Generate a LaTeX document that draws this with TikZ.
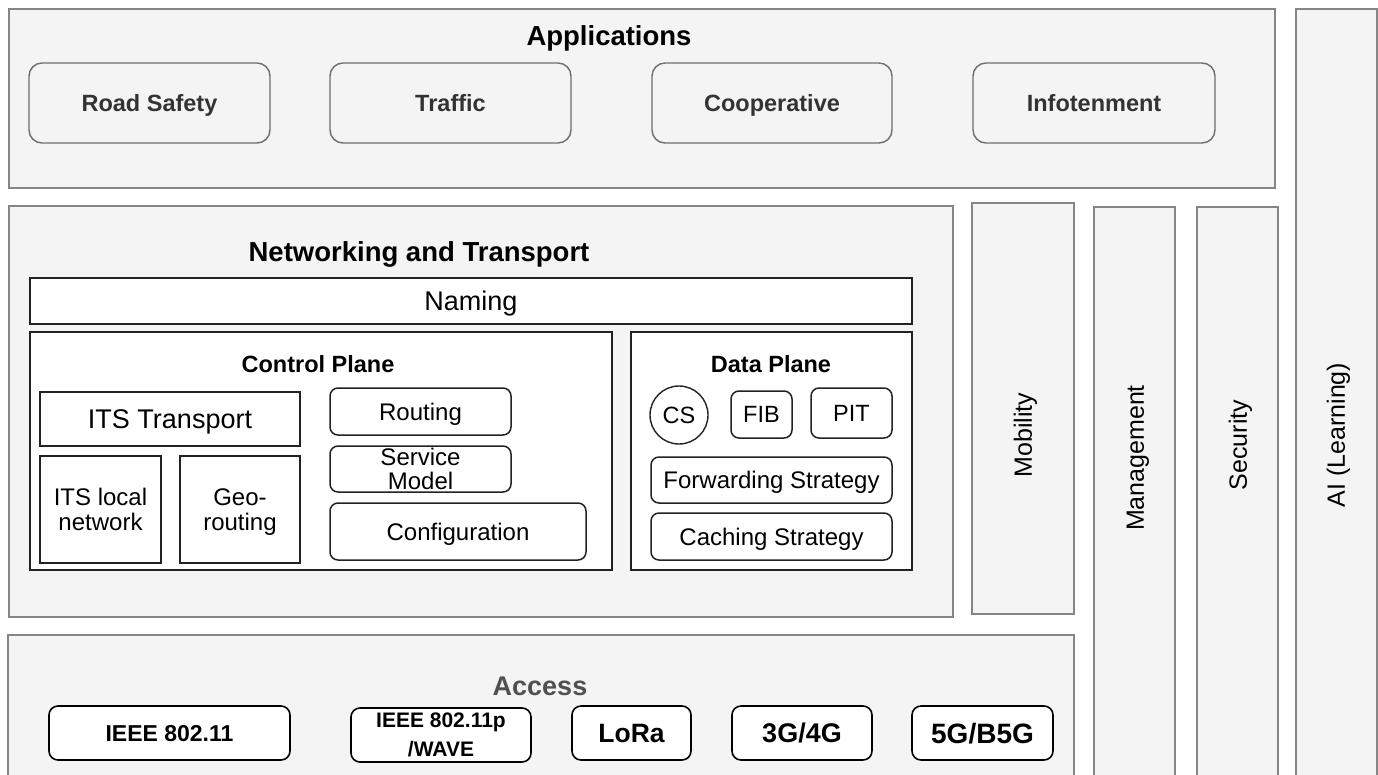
\documentclass[tikz,border=0pt]{standalone}
\usepackage{fontspec}
\setmainfont{Liberation Sans}
\usetikzlibrary{shapes.geometric}
\definecolor{bgfill}{HTML}{F4F4F4}
\definecolor{outline}{HTML}{858585}
\definecolor{appline}{HTML}{6E6E6E}
\definecolor{dark}{HTML}{222222}
\definecolor{apptext}{HTML}{333333}
\definecolor{acctitle}{HTML}{505050}
\newcommand\boxat[7]{\node[#6, anchor=north west, minimum width={#4-#2}, minimum height={#5-#3}] (#1) at (#2,#3) {#7};}
\tikzset{
  every node/.style={inner sep=0pt, outer sep=0pt},
  ctext/.style args={#1/#2}{font=\fontsize{#1}{#1}\selectfont, text height=#2pt, text depth=0pt},
  layer/.style={draw=outline, fill=bgfill, line width=1.5pt},
  ibox/.style={draw=dark, fill=white, line width=1.5pt},
  rbox/.style={ibox, rounded corners=8pt},
  appitem/.style={draw=appline, fill=bgfill, line width=1.4pt, rounded corners=13pt, text=apptext},
  accitem/.style={draw=black, fill=white, line width=1.6pt, rounded corners=9pt},
  ttl/.style={anchor=base, font=\fontsize{27.5}{30}\selectfont\bfseries},
  vtext/.style={rotate=90, ctext=25/17.9},
}
\begin{document}
\begin{tikzpicture}[x=1pt, y=-1pt]
\useasboundingbox (0,0) rectangle (1378,774);
\clip (0,0) rectangle (1378,774);
\fill[white] (0,0) rectangle (1378,774);

% Applications
\boxat{apps}{9}{9}{1275}{188}{layer}{}
\node[ttl] (appsT) at (609,45) {Applications};
\boxat{road}{29}{63}{270}{143}{appitem, ctext=23.5/16.8, font=\fontsize{23.5}{24}\selectfont\bfseries}{Road Safety}
\boxat{traffic}{330}{63}{571}{143}{appitem, ctext=23.5/16.8, font=\fontsize{23.5}{24}\selectfont\bfseries}{Traffic}
\boxat{coop}{652}{63}{892}{143}{appitem, ctext=23.5/16.8, font=\fontsize{23.5}{24}\selectfont\bfseries}{Cooperative}
\boxat{info}{973}{63}{1215}{143}{appitem, ctext=23.5/16.8, font=\fontsize{23.5}{24}\selectfont\bfseries}{Infotenment}

% Side columns
\boxat{ai}{1296}{9}{1377}{800}{layer}{}
\node[vtext] (aiT) at (1336,435) {AI (Learning)};
\boxat{mob}{972}{203}{1074}{614}{layer}{}
\node[vtext] (mobT) at (1023,435) {Mobility};
\boxat{mgmt}{1094}{207}{1175}{800}{layer}{}
\node[vtext] (mgmtT) at (1135,458) {Management};
\boxat{sec}{1197}{207}{1278}{800}{layer}{}
\node[vtext] (secT) at (1238,445) {Security};

% Networking and Transport
\boxat{nt}{9}{206}{953}{617}{layer}{}
\node[ttl] (ntT) at (419,261) {Networking and Transport};
\boxat{naming}{30}{278}{912}{324}{ibox, ctext=27/19.3}{Naming}

% Control plane
\boxat{cp}{30}{332}{612}{570}{ibox}{}
\node[anchor=base, font=\fontsize{23.5}{24}\selectfont\bfseries] (cpT) at (318,372) {Control Plane};
\boxat{itst}{40}{392}{300}{446}{ibox, ctext=27/19.3}{ITS Transport}
\boxat{itsl}{40}{456}{161}{563}{ibox, align=center, text depth=0pt, font=\fontsize{24}{25}\selectfont}{ITS local\\network}
\boxat{geo}{180}{456}{300}{563}{ibox, align=center, text depth=0pt, font=\fontsize{24}{25}\selectfont}{Geo-\\routing}
\boxat{routing}{330}{388}{511}{435}{rbox, ctext=24/17.2}{Routing}
\boxat{svc}{330}{446}{511}{492}{rbox, align=center, text depth=0pt, font=\fontsize{24}{24}\selectfont}{Service\\Model}
\boxat{conf}{330}{503}{586}{560}{rbox, ctext=24/17.2}{Configuration}

% Data plane
\boxat{dp}{631}{332}{912}{570}{ibox}{}
\node[anchor=base, font=\fontsize{23.5}{24}\selectfont\bfseries] (dpT) at (771,372) {Data Plane};
\node[circle, draw=dark, fill=white, line width=1.4pt, minimum size=58pt, ctext=23.5/16.8] (cs) at (679,415) {CS};
\boxat{fib}{731}{391}{792}{438}{rbox, ctext=23.5/16.8}{FIB}
\boxat{pit}{811}{388}{892}{438}{rbox, ctext=23.5/16.8}{PIT}
\boxat{fwd}{651}{457}{892}{503}{rbox, ctext=24/17.2}{Forwarding Strategy}
\boxat{cache}{651}{513}{892}{560}{rbox, ctext=24/17.2}{Caching Strategy}

% Access
\boxat{acc}{8}{635}{1074}{800}{layer}{}
\node[anchor=base, font=\fontsize{27}{30}\selectfont\bfseries, text=acctitle] (accT) at (540,695) {Access};
\boxat{ieee}{49}{706}{290}{760}{accitem, ctext=23/16.5, font=\fontsize{23}{24}\selectfont\bfseries}{IEEE 802.11}
\boxat{wave}{351}{706}{531}{760}{accitem, align=center, text depth=0pt, yshift=-2pt, font=\fontsize{21}{29}\selectfont\bfseries}{IEEE 802.11p\\/WAVE}
\boxat{lora}{572}{706}{691}{760}{accitem, ctext=26.5/19.0, font=\fontsize{26.5}{27}\selectfont\bfseries}{LoRa}
\boxat{g34}{732}{706}{872}{760}{accitem, ctext=27/19.3, font=\fontsize{27}{27}\selectfont\bfseries}{3G/4G}
\boxat{g5}{912}{706}{1053}{760}{accitem, ctext=28/20.0, font=\fontsize{28}{28}\selectfont\bfseries}{5G/B5G}
\end{tikzpicture}
\end{document}
